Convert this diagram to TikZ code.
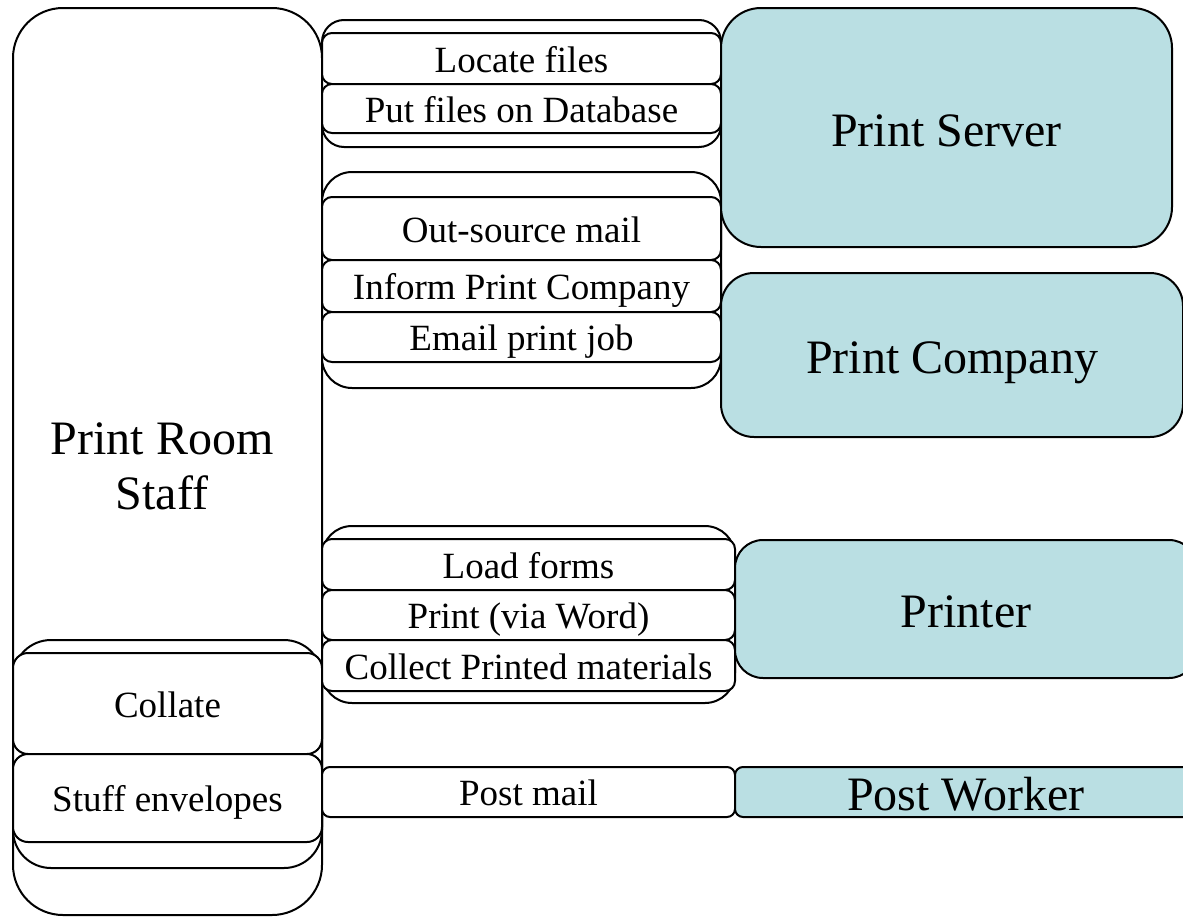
\documentclass[tikz,border=0pt]{standalone}
\usepackage{fontspec}
\setmainfont{Liberation Serif}
\usepackage{xcolor}
\usepackage{tikz}
\definecolor{lane}{RGB}{186,223,227}

\begin{document}
\begin{tikzpicture}[x=1pt,y=-1pt,line width=2pt,
    box/.style={draw=black,fill=white,inner sep=0pt,outer sep=0pt,text=black,text height=27pt,text depth=0pt,font=\fontsize{37}{42}\selectfont},
    actor/.style={draw=black,fill=lane,inner sep=0pt,outer sep=0pt,text=black,text height=37pt,text depth=0pt,font=\fontsize{48}{55}\selectfont}]
                    \clip (0,0) rectangle (1183,916);

                    % print room staff
                    \node[box, rounded corners=50pt, minimum width=309pt, minimum height=907pt] (Staff) at (167.5,461.5) {};
                    \node[align=center, inner sep=0pt, font=\fontsize{48}{55}\selectfont] (StaffText) at (162,466) {Print Room\\Staff};
                    \node[box, rounded corners=38pt, minimum width=309pt, minimum height=228pt] (StaffGrp) at (167.5,754) {};
                    \node[box, rounded corners=15pt, minimum width=309pt, minimum height=101pt] (Collate) at (167.5,703.5) {Collate};
                    \node[box, rounded corners=15pt, minimum width=309pt, minimum height=88pt] (Stuff) at (167.5,798) {Stuff envelopes};

                    % files
                    \node[box, rounded corners=22pt, minimum width=399pt, minimum height=127pt] (FilesGrp) at (521.5,83.5) {};
                    \node[box, rounded corners=10pt, minimum width=399pt, minimum height=51pt] (Locate) at (521.5,58.5) {Locate files};
                    \node[box, rounded corners=10pt, minimum width=399pt, minimum height=49pt] (PutDb) at (521.5,108.5) {Put files on Database};

                    % out-source
                    \node[box, rounded corners=30pt, minimum width=399pt, minimum height=216pt] (MailGrp) at (521.5,280) {};
                    \node[box, rounded corners=10pt, minimum width=399pt, minimum height=63pt] (OutSrc) at (521.5,228.5) {Out-source mail};
                    \node[box, rounded corners=10pt, minimum width=399pt, minimum height=52pt] (Inform) at (521.5,286) {Inform Print Company};
                    \node[box, rounded corners=10pt, minimum width=399pt, minimum height=50pt] (Email) at (521.5,337) {Email print job};

                    % printing
                    \node[box, rounded corners=30pt, minimum width=413pt, minimum height=177pt] (PrintGrp) at (528.5,614.5) {};
                    \node[box, rounded corners=10pt, minimum width=413pt, minimum height=51pt] (Load) at (528.5,564.5) {Load forms};
                    \node[box, rounded corners=10pt, minimum width=413pt, minimum height=50pt] (PrintWord) at (528.5,615) {Print (via Word)};
                    \node[box, rounded corners=10pt, minimum width=413pt, minimum height=51pt] (Collect) at (528.5,665.5) {Collect Printed materials};

                    \node[box, rounded corners=8pt, minimum width=413pt, minimum height=50pt] (PostMail) at (528.5,792) {Post mail};

                    % actors
                    \node[actor, rounded corners=40pt, minimum width=451pt, minimum height=239pt] (Server) at (946.5,127.5) {Print Server};
                    \node[actor, rounded corners=33pt, minimum width=462pt, minimum height=164pt] (Company) at (952,355) {Print Company};
                    \node[actor, rounded corners=28pt, minimum width=462pt, minimum height=138pt] (Printer) at (966,609) {Printer};
                    \node[actor, rounded corners=8pt, minimum width=462pt, minimum height=50pt] (PostWorker) at (966,792) {Post Worker};
                \end{tikzpicture}
\end{document}
